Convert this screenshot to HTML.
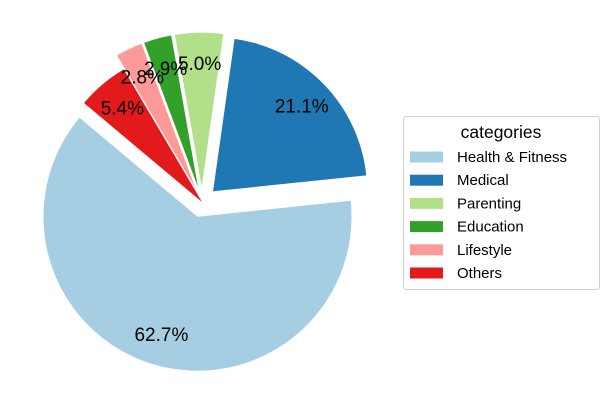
<!DOCTYPE html>
<html><head><meta charset="utf-8"><style>
body{margin:0;background:#fff;width:609px;height:405px;overflow:hidden;font-family:"Liberation Sans","DejaVu Sans",sans-serif}
</style></head><body>
<svg id="chart" width="609" height="405" viewBox="0 0 609 405" xmlns="http://www.w3.org/2000/svg">
<g id="slices"></g>
<g id="labels"></g>
<g id="legend">
<rect x="403.5" y="116.5" width="196" height="173" rx="3" fill="#fff" stroke="#d0d0d0"/>
<text x="501" y="138" text-anchor="middle" font-size="17.5" fill="#000">categories</text>
</g>
</svg>
<script>
const categories = ["Health & Fitness","Medical","Parenting","Education","Lifestyle","Others"];
const values = [62.7,21.1,5.0,2.9,2.8,5.4];
const explode = [0.1,0.1,0.1,0.1,0.1,0];
const colors = ["#a6cee3","#1f78b4","#b2df8a","#33a02c","#fb9a99","#e31a1c"];
const cx = 202, cy = 202, R = 154, startAngle = 140, pctDist = 0.8;
const NS = "http://www.w3.org/2000/svg";
const total = values.reduce((a,b)=>a+b,0);
const gS = document.getElementById('slices'), gL = document.getElementById('labels'), gLeg = document.getElementById('legend');
let a = startAngle;
values.forEach((v,i)=>{
  const sweep = v/total*360, a1 = a, a2 = a+sweep, mid = (a1+a2)/2*Math.PI/180;
  const ox = cx + explode[i]*R*Math.cos(mid), oy = cy - explode[i]*R*Math.sin(mid);
  const r1 = a1*Math.PI/180, r2 = a2*Math.PI/180;
  const x1 = ox + R*Math.cos(r1), y1 = oy - R*Math.sin(r1);
  const x2 = ox + R*Math.cos(r2), y2 = oy - R*Math.sin(r2);
  const large = sweep>180?1:0;
  const p = document.createElementNS(NS,'path');
  p.setAttribute('d',`M${ox},${oy} L${x1},${y1} A${R},${R} 0 ${large} 0 ${x2},${y2} Z`);
  p.setAttribute('fill',colors[i]);
  
  
  gS.appendChild(p);
  const t = document.createElementNS(NS,'text');
  t.setAttribute('x', ox + pctDist*R*Math.cos(mid));
  t.setAttribute('y', oy - pctDist*R*Math.sin(mid) + 6.5);
  t.setAttribute('text-anchor','middle');
  t.setAttribute('font-size','19');
  t.textContent = v.toFixed(1)+'%';
  
  
  gL.appendChild(t);
  const ly = 157 + i*23.2;
  const r = document.createElementNS(NS,'rect');
  r.setAttribute('x',410); r.setAttribute('y',ly-5.5); r.setAttribute('width',33); r.setAttribute('height',11);
  r.setAttribute('fill',colors[i]);
  
  
  gLeg.appendChild(r);
  const lt = document.createElementNS(NS,'text');
  lt.setAttribute('x',457); lt.setAttribute('y',ly+5); lt.setAttribute('font-size','15');
  lt.textContent = categories[i];
  
  
  gLeg.appendChild(lt);
  a = a2;
});
</script>
</body></html>
